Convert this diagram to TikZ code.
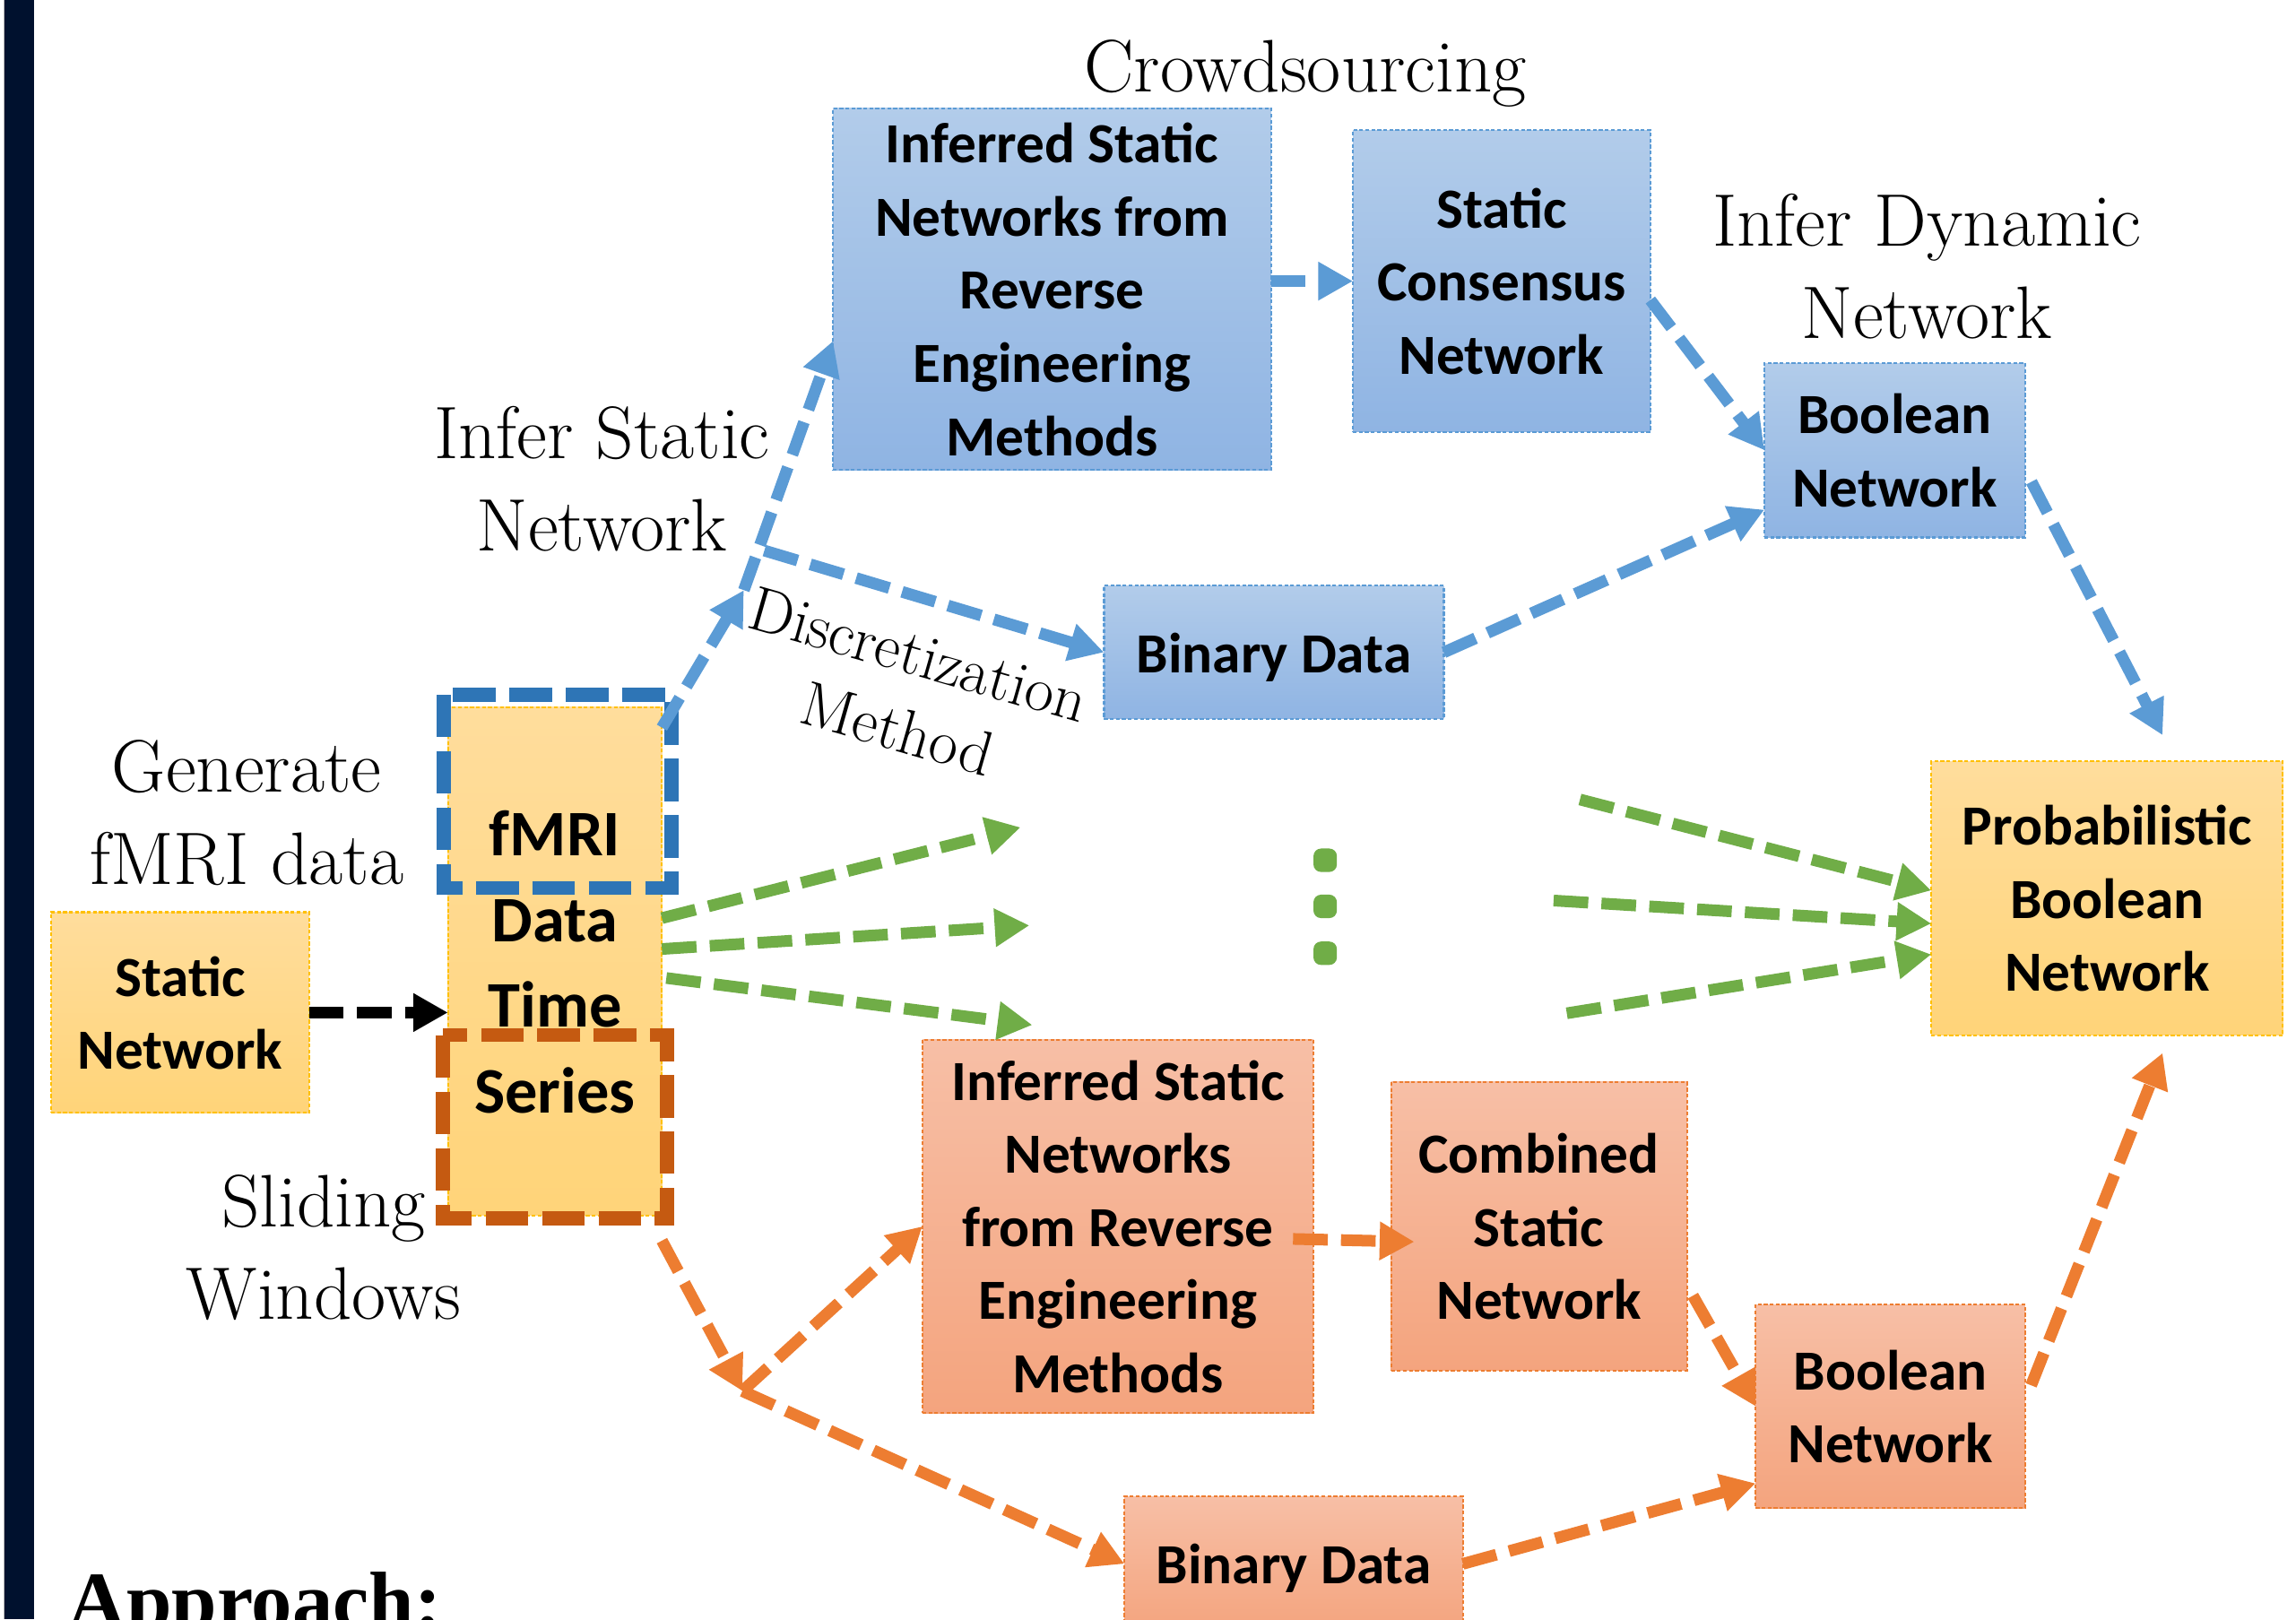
\documentclass[tikz,border=0pt]{standalone}
\usepackage{fontspec}
\newfontfamily\boxfont{Carlito}
\newfontfamily\headfont{Liberation Serif}
\usetikzlibrary{arrows.meta,calc}

\definecolor{accblue}{HTML}{5B9BD5}
\definecolor{accgreen}{HTML}{70AD47}
\definecolor{accorange}{HTML}{ED7D31}
\definecolor{frameblue}{HTML}{2E75B6}
\definecolor{frameorange}{HTML}{C55A11}
\definecolor{bluetop}{HTML}{B2CCEA}
\definecolor{bluebot}{HTML}{8FB4E3}
\definecolor{orangetop}{HTML}{F7BFA6}
\definecolor{orangebot}{HTML}{F4A47E}
\definecolor{yellowtop}{HTML}{FFDD9C}
\definecolor{yellowbot}{HTML}{FFD479}
\definecolor{yellowedge}{HTML}{FFC000}
\definecolor{barnavy}{HTML}{00112E}

% struts for the first and last line of box text
\newcommand\boxtop{\vrule height.7\baselineskip depth 0pt width 0pt}
\newcommand\boxbot[1][3.5pt]{\vrule height 0pt depth #1 width 0pt}

\tikzset{
  tbox/.style 2 args={inner sep=0pt, outer sep=0pt, align=center,
    minimum width=#1 cm, minimum height=#2 cm,
    font=\boxfont\bfseries\fontsize{18}{23.2}\selectfont,
    line width=0.6pt, dash pattern=on 1.2pt off 0.7pt},
  bluebox/.style={draw=accblue, top color=bluetop, bottom color=bluebot},
  orangebox/.style={draw=accorange, top color=orangetop, bottom color=orangebot},
  yellowbox/.style={draw=yellowedge, top color=yellowtop, bottom color=yellowbot},
  lab/.style={inner sep=0pt, align=center,
    font=\fontsize{23.6}{29.2}\selectfont,
    execute at begin node=\strut, execute at end node=\strut},
  flow/.style={line width=3.7pt, dash pattern=on 11pt off 4.2pt,
    -{Triangle[length=11pt,width=11.5pt]}},
  frame/.style={line width=4.4pt, dash pattern=on 13.5pt off 4.4pt}
}

\begin{document}
\begin{tikzpicture}[x=0.016333cm, y=-0.016333cm]
\useasboundingbox (0,0) rectangle (1568,1106);
\clip (0,0) rectangle (1568,1106);
\fill[white] (0,0) rectangle (1568,1106);

% slide edge on the left
\fill[gray!55] (2.3,0) rectangle (3.1,1106);
\fill[barnavy] (3.1,0) rectangle (23.3,1106);

% boxes
\node[tbox={2.875}{2.238}, yellowbox] (y1) at (123,691.5) {\boxtop Static\\Network\boxbot};
\node[tbox={2.385}{5.668}, yellowbox,
      font=\boxfont\bfseries\fontsize{20.6}{27.2}\selectfont] (y2) at (379,656.5)
      {\boxtop fMRI\\Data\\Time\\Series\boxbot[4.5pt]};
\node[tbox={3.920}{3.054}, yellowbox] (y3) at (1439,613.5) {\boxtop Probabilistic\\Boolean\\Network\boxbot};

\node[tbox={4.884}{4.034}, bluebox] (b1) at (718.5,197.5) {\boxtop Inferred Static\\Networks from\\Reverse\\Engineering\\Methods\boxbot};
\node[tbox={3.316}{3.365}, bluebox] (b2) at (1025.5,192) {\boxtop Static\\Consensus\\Network\boxbot};
\node[tbox={2.907}{1.944}, bluebox] (b3) at (1294,307.5) {\boxtop Boolean\\Network\boxbot};
\node[tbox={3.789}{1.486}, bluebox] (b4) at (870,445.5) {\boxtop Binary Data\boxbot};

\node[tbox={4.361}{4.165}, orangebox] (o1) at (763.5,837.5) {\boxtop Inferred Static\\Networks\\from Reverse\\Engineering\\Methods\boxbot};
\node[tbox={3.299}{3.218}, orangebox] (o2) at (1051,837.5) {\boxtop Combined\\Static\\Network\boxbot};
\node[tbox={3.005}{2.270}, orangebox] (o3) at (1291,960.5) {\boxtop Boolean\\Network\boxbot};
\node[tbox={3.773}{1.503}, orangebox] (o4) at (883.5,1068) {\boxtop Binary Data\boxbot};

% dashed frames marking the fMRI part and the sliding windows
\draw[frame, frameblue] (303,474.5) rectangle (458.5,606.5);
\draw[frame, frameorange] (302.5,707) rectangle (455.5,832);

% labels
\node[lab] (crowd) at (891.5,50.4) {Crowdsourcing};
\node[lab] (infdyn) at (1316,191) {Infer Dynamic\\Network};
\node[lab] (infstat) at (411,336.5) {Infer Static\\Network};
\node[lab] (gen) at (168.5,564) {Generate\\fMRI data};
\node[lab] (slide) at (221,861) {Sliding\\Windows};
\node[lab, font=\fontsize{20}{24.5}\selectfont, rotate=-16] (disc) at (618,480) {Discretization\\Method};
\node[anchor=base west, inner sep=0pt,
      font=\headfont\bfseries\fontsize{25.8}{30}\selectfont] (appr) at (46,1112) {Approach:};

% branch points and open ends
\coordinate (jb) at (508,403);
\coordinate (jc) at (522,376);
\coordinate (jo) at (507,950);
\coordinate (gt1) at (697,565);
\coordinate (gt2) at (703,632);
\coordinate (gt3) at (705,700);
\coordinate (gs4) at (1079,546);
\coordinate (gs5) at (1061,615);
\coordinate (gs6) at (1070,692);

% generating the data
\draw[flow, black] (y1.east) -- (y1.east -| y2.west);

% static inference branch
\draw[flow, accblue] ([yshift=-6.5pt]y2.north east) -- (jb);
\draw[flow, accblue] (jb) -- ([yshift=-16.4pt]b1.west);
\draw[flow, accblue] (jc) -- (b4.west);
\draw[flow, accblue] (b1.east |- b2.west) -- (b2.west);
\draw[flow, accblue] ([yshift=-6pt]b2.east) -- (b3.west);
\draw[flow, accblue] (b4.east) -- ([yshift=8.8pt]b3.south west);
\draw[flow, accblue] ([shift={(2pt,-10pt)}]b3.east) -- ([shift={(17.6pt,8.3pt)}]y3.north);

% window branches
\draw[flow, accgreen] ([yshift=13.7pt]y2.east) -- (gt1);
\draw[flow, accgreen] ([yshift=3.9pt]y2.east) -- (gt2);
\draw[flow, accgreen] ([shift={(1.4pt,-5.3pt)}]y2.east) -- (gt3);
\draw[flow, accgreen] (gs4) -- ([yshift=2.5pt]y3.west);
\draw[flow, accgreen] (gs5) -- ([yshift=-8pt]y3.west);
\draw[flow, accgreen] (gs6) -- ([yshift=-17.8pt]y3.west);
\foreach \yy in {587.5,619,651}
  \fill[accgreen, rounded corners=2.4pt] (897,\yy-8) rectangle (913,\yy+8);

% sliding window branch
\draw[flow, accorange] ([yshift=-8pt]y2.south east) -- (jo);
\draw[flow, accorange] (jo) -- (o1.west);
\draw[flow, accorange] (jo) -- (o4.west);
\draw[flow, accorange] ([shift={(-6.5pt,-4pt)}]o1.east) -- ([shift={(7.4pt,-4.9pt)}]o2.west);
\draw[flow, accorange] ([shift={(1.9pt,-22pt)}]o2.east) -- (o3.west);
\draw[flow, accorange] (o4.east) -- ([yshift=7.9pt]o3.south west);
\draw[flow, accorange] ([shift={(1.9pt,6.7pt)}]o3.east) -- ([shift={(17.6pt,-5.6pt)}]y3.south);
\end{tikzpicture}
\end{document}
